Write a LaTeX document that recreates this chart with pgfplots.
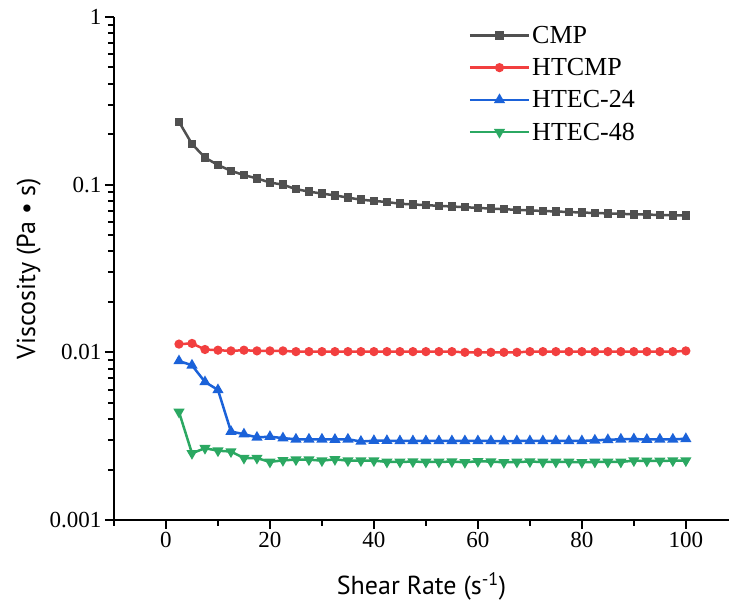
\documentclass[border=0pt]{standalone}
\usepackage{pgfplots}
\pgfplotsset{compat=1.18}
\usepackage{fontspec}
\setmainfont{Liberation Serif}
\newfontfamily\labelfont{PT Sans}

\definecolor{cmp}{HTML}{505050}
\definecolor{htcmp}{HTML}{F23F3F}
\definecolor{htec24}{HTML}{1B62D9}
\definecolor{htec48}{HTML}{2BA862}

\pgfplotstableread{
x cmp htcmp htec24 htec48
2.5 0.237 0.0112 0.00888 0.00441
5 0.175 0.0113 0.00837 0.00250
7.5 0.145 0.0104 0.00666 0.00268
10 0.131 0.0103 0.00597 0.00259
12.5 0.121 0.0102 0.00337 0.00256
15 0.114 0.0103 0.00325 0.00234
17.5 0.109 0.0102 0.00311 0.00234
20 0.103 0.0102 0.00314 0.00222
22.5 0.100 0.0102 0.00308 0.00227
25 0.0940 0.0101 0.00303 0.00229
27.5 0.0910 0.0101 0.00303 0.00229
30 0.0884 0.0101 0.00303 0.00226
32.5 0.0864 0.0101 0.00302 0.00230
35 0.0837 0.0101 0.00303 0.00226
37.5 0.0814 0.0101 0.00294 0.00226
40 0.0800 0.0101 0.00297 0.00226
42.5 0.0788 0.0101 0.00297 0.00222
45 0.0770 0.0101 0.00296 0.00222
47.5 0.0762 0.0101 0.00296 0.00223
50 0.0755 0.0101 0.00296 0.00222
52.5 0.0748 0.0101 0.00296 0.00222
55 0.0741 0.0101 0.00296 0.00223
57.5 0.0734 0.0100 0.00296 0.00221
60 0.0727 0.0100 0.00296 0.00224
62.5 0.0720 0.0100 0.00296 0.00223
65 0.0714 0.0100 0.00295 0.00221
67.5 0.0708 0.0100 0.00296 0.00222
70 0.0702 0.0101 0.00296 0.00223
72.5 0.0697 0.0101 0.00296 0.00222
75 0.0692 0.0101 0.00296 0.00222
77.5 0.0687 0.0101 0.00296 0.00222
80 0.0682 0.0101 0.00296 0.00221
82.5 0.0678 0.0101 0.00299 0.00222
85 0.0674 0.0101 0.00301 0.00222
87.5 0.0670 0.0101 0.00303 0.00222
90 0.0666 0.0101 0.00304 0.00226
92.5 0.0663 0.0101 0.00302 0.00225
95 0.0660 0.0101 0.00303 0.00225
97.5 0.0657 0.0101 0.00303 0.00226
100 0.0654 0.0102 0.00305 0.00226
}\visc

\begin{document}
\begin{tikzpicture}
\begin{axis}[
    name=ax,
    scale only axis,
    width=615pt, height=503pt,
    ymode=log,
    xmin=-10, xmax=108.3,
    ymin=0.001, ymax=1,
    axis lines*=left,
    axis line style={line width=2.2pt},
    tick align=outside,
    major tick length=9pt, minor tick length=6pt,
    every tick/.style={black, line width=2pt},
    xtick={0,20,...,100},
    minor xtick={-10,10,30,50,70,90},
    ytick={0.001,0.01,0.1,1},
    yticklabels={0.001,0.01,0.1,1},
    minor ytick={0.002,0.003,0.004,0.005,0.006,0.007,0.008,0.009,
                 0.02,0.03,0.04,0.05,0.06,0.07,0.08,0.09,
                 0.2,0.3,0.4,0.5,0.6,0.7,0.8,0.9},
    /pgf/number format/assume math mode=true,
    tick label style={font=\fontsize{23}{25}\selectfont},
    xlabel={\labelfont Shear Rate (s\textsuperscript{-1})},
    ylabel={\labelfont Viscosity (Pa • s)},
    label style={font=\fontsize{26}{28}\selectfont},
    xlabel style={yshift=-18pt},
    ylabel style={yshift=2pt},
    legend style={draw=none, fill=none, at={(axis cs:58.2,0.91)}, anchor=north west,
        font=\fontsize{26}{28}\selectfont, row sep=9.5pt, inner sep=0pt,
        nodes={inner sep=2pt}},
    legend cell align=left,
    legend image code/.code={\draw[mark repeat=2,mark phase=2,line width=2.5pt,#1]
        plot coordinates {(0pt,0pt) (29.5pt,0pt) (59pt,0pt)};},
]
\addplot[cmp, line width=2.5pt, mark=square*, mark size=3pt] table[x=x, y=cmp] {\visc};
\addlegendentry{CMP}
\addplot[htcmp, line width=2.5pt, mark=*, mark size=3.3pt] table[x=x, y=htcmp] {\visc};
\addlegendentry{HTCMP}
\addplot[htec24, line width=2.5pt, mark=triangle*, mark size=4pt] table[x=x, y=htec24] {\visc};
\addlegendentry{HTEC-24}
\addplot[htec48, line width=2.5pt, mark=triangle*, mark options={rotate=180}, mark size=4pt] table[x=x, y=htec48] {\visc};
\addlegendentry{HTEC-48}
\end{axis}
\pgfresetboundingbox
\useasboundingbox ([shift={(-114pt,-84pt)}]ax.south west) rectangle ([shift={(615pt,520pt)}]ax.south west);
\end{tikzpicture}
\end{document}
